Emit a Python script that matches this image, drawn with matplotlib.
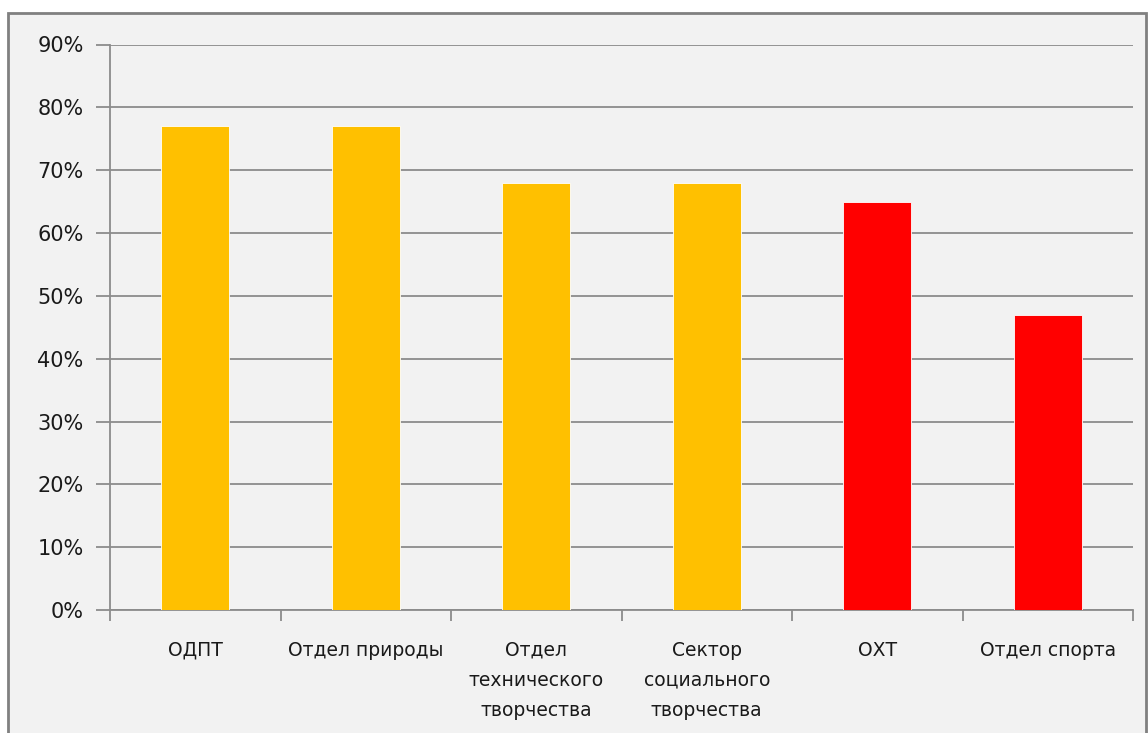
import matplotlib.pyplot as plt
from matplotlib.patches import Rectangle
from matplotlib.ticker import PercentFormatter

categories = ["ОДПТ", "Отдел природы", "Отдел\nтехнического\nтворчества",
              "Сектор\nсоциального\nтворчества", "ОХТ", "Отдел спорта"]
values = [77, 77, 68, 68, 65, 47]
colors = ["#FFC000", "#FFC000", "#FFC000", "#FFC000", "#FF0000", "#FF0000"]
y_ticks = list(range(0, 100, 10))


def main():
    plt.rcParams["font.family"] = ["DejaVu Sans"]
    fig = plt.figure(figsize=(11.48, 7.33), dpi=100, facecolor="white")
    # outer chart frame
    fig.patches.append(Rectangle((8 / 1148, -0.05), 1138 / 1148, 1.05 - 13 / 733,
                                 transform=fig.transFigure, facecolor="#F2F2F2",
                                 edgecolor="#808080", linewidth=2, zorder=-10))
    ax = fig.add_axes([110 / 1148, 1 - 610 / 733, 1023 / 1148, 565.5 / 733])
    ax.set_facecolor("none")
    ax.set_zorder(5)

    x = list(range(len(categories)))
    ax.bar(x, values, width=0.4, color=colors, edgecolor="white",
           linewidth=0.6, zorder=3)

    ax.set_xlim(-0.5, len(categories) - 0.5)
    ax.set_ylim(0, 90)
    ax.set_yticks(y_ticks)
    ax.yaxis.set_major_formatter(PercentFormatter(decimals=0))
    ax.yaxis.grid(True, color="#8C8C8C", linewidth=1.3, zorder=1)

    ax.set_xticks([i - 0.5 for i in range(len(categories) + 1)])
    ax.set_xticklabels([])
    ax.set_xticks(x, minor=True)
    ax.set_xticklabels(categories, minor=True, fontsize=13.5, linespacing=1.75,
                       color="#1a1a1a")
    ax.tick_params(axis="x", which="minor", length=0, pad=22)
    ax.tick_params(axis="x", which="major", length=8, color="#8C8C8C", width=1.3)
    ax.tick_params(axis="y", length=10, color="#8C8C8C", width=1.3, pad=9,
                   labelsize=15, labelcolor="#1a1a1a")

    for side in ["top", "right"]:
        ax.spines[side].set_visible(False)
    for side in ["left", "bottom"]:
        ax.spines[side].set_color("#8C8C8C")
        ax.spines[side].set_linewidth(1.3)

    fig.savefig("out.png", dpi=100)


if __name__ == "__main__":
    main()
